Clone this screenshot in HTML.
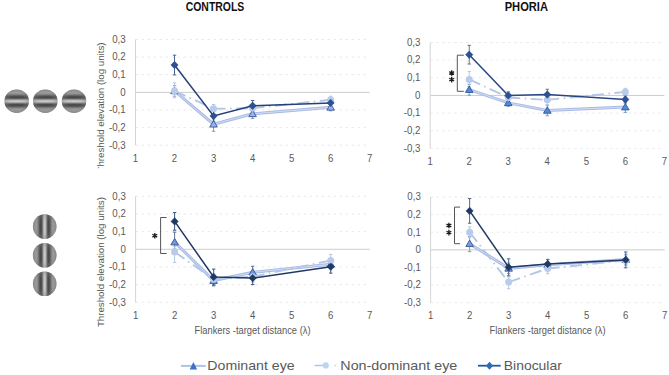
<!DOCTYPE html><html><head><meta charset="utf-8"><style>html,body{margin:0;padding:0;background:#fff;}svg{display:block;}</style></head><body>
<svg width="669" height="375" viewBox="0 0 669 375" font-family='"Liberation Sans", sans-serif'>
<defs>
<linearGradient id="gh" x1="0" y1="0" x2="0" y2="1"><stop offset="0.000" stop-color="#949494"/><stop offset="0.025" stop-color="#969696"/><stop offset="0.050" stop-color="#999999"/><stop offset="0.075" stop-color="#9c9c9c"/><stop offset="0.100" stop-color="#9e9e9e"/><stop offset="0.125" stop-color="#a1a1a1"/><stop offset="0.150" stop-color="#9f9f9f"/><stop offset="0.175" stop-color="#979797"/><stop offset="0.200" stop-color="#8a8a8a"/><stop offset="0.225" stop-color="#797979"/><stop offset="0.250" stop-color="#676767"/><stop offset="0.275" stop-color="#565656"/><stop offset="0.300" stop-color="#4a4a4a"/><stop offset="0.325" stop-color="#434343"/><stop offset="0.350" stop-color="#434343"/><stop offset="0.375" stop-color="#515151"/><stop offset="0.400" stop-color="#6c6c6c"/><stop offset="0.425" stop-color="#8e8e8e"/><stop offset="0.450" stop-color="#aeaeae"/><stop offset="0.475" stop-color="#c4c4c4"/><stop offset="0.500" stop-color="#cdcdcd"/><stop offset="0.525" stop-color="#c4c4c4"/><stop offset="0.550" stop-color="#aeaeae"/><stop offset="0.575" stop-color="#8e8e8e"/><stop offset="0.600" stop-color="#6c6c6c"/><stop offset="0.625" stop-color="#515151"/><stop offset="0.650" stop-color="#434343"/><stop offset="0.675" stop-color="#434343"/><stop offset="0.700" stop-color="#4a4a4a"/><stop offset="0.725" stop-color="#565656"/><stop offset="0.750" stop-color="#676767"/><stop offset="0.775" stop-color="#797979"/><stop offset="0.800" stop-color="#8a8a8a"/><stop offset="0.825" stop-color="#979797"/><stop offset="0.850" stop-color="#9f9f9f"/><stop offset="0.875" stop-color="#a1a1a1"/><stop offset="0.900" stop-color="#9e9e9e"/><stop offset="0.925" stop-color="#9c9c9c"/><stop offset="0.950" stop-color="#999999"/><stop offset="0.975" stop-color="#969696"/><stop offset="1.000" stop-color="#949494"/></linearGradient>
<linearGradient id="gv" x1="0" y1="0" x2="1" y2="0"><stop offset="0.000" stop-color="#949494"/><stop offset="0.025" stop-color="#969696"/><stop offset="0.050" stop-color="#999999"/><stop offset="0.075" stop-color="#9c9c9c"/><stop offset="0.100" stop-color="#9e9e9e"/><stop offset="0.125" stop-color="#a1a1a1"/><stop offset="0.150" stop-color="#9f9f9f"/><stop offset="0.175" stop-color="#979797"/><stop offset="0.200" stop-color="#8a8a8a"/><stop offset="0.225" stop-color="#797979"/><stop offset="0.250" stop-color="#676767"/><stop offset="0.275" stop-color="#565656"/><stop offset="0.300" stop-color="#4a4a4a"/><stop offset="0.325" stop-color="#434343"/><stop offset="0.350" stop-color="#434343"/><stop offset="0.375" stop-color="#515151"/><stop offset="0.400" stop-color="#6c6c6c"/><stop offset="0.425" stop-color="#8e8e8e"/><stop offset="0.450" stop-color="#aeaeae"/><stop offset="0.475" stop-color="#c4c4c4"/><stop offset="0.500" stop-color="#cdcdcd"/><stop offset="0.525" stop-color="#c4c4c4"/><stop offset="0.550" stop-color="#aeaeae"/><stop offset="0.575" stop-color="#8e8e8e"/><stop offset="0.600" stop-color="#6c6c6c"/><stop offset="0.625" stop-color="#515151"/><stop offset="0.650" stop-color="#434343"/><stop offset="0.675" stop-color="#434343"/><stop offset="0.700" stop-color="#4a4a4a"/><stop offset="0.725" stop-color="#565656"/><stop offset="0.750" stop-color="#676767"/><stop offset="0.775" stop-color="#797979"/><stop offset="0.800" stop-color="#8a8a8a"/><stop offset="0.825" stop-color="#979797"/><stop offset="0.850" stop-color="#9f9f9f"/><stop offset="0.875" stop-color="#a1a1a1"/><stop offset="0.900" stop-color="#9e9e9e"/><stop offset="0.925" stop-color="#9c9c9c"/><stop offset="0.950" stop-color="#999999"/><stop offset="0.975" stop-color="#969696"/><stop offset="1.000" stop-color="#949494"/></linearGradient>
<radialGradient id="gr" cx="0.5" cy="0.5" r="0.5"><stop offset="0" stop-color="#8a8a8a" stop-opacity="0"/><stop offset="0.6" stop-color="#8a8a8a" stop-opacity="0.12"/><stop offset="1" stop-color="#7c7c7c" stop-opacity="0.5"/></radialGradient><filter id="soft" x="-20%" y="-20%" width="140%" height="140%"><feGaussianBlur stdDeviation="0.6"/></filter>
<clipPath id="clipTL"><rect x="0" y="20" width="669" height="148.3"/></clipPath>
</defs>
<g filter="url(#soft)">
<ellipse cx="16.7" cy="101.2" rx="12.2" ry="11.8" fill="url(#gh)"/>
<ellipse cx="16.7" cy="101.2" rx="12.2" ry="11.8" fill="url(#gr)"/>
<ellipse cx="45.3" cy="101.2" rx="12.2" ry="11.8" fill="url(#gh)"/>
<ellipse cx="45.3" cy="101.2" rx="12.2" ry="11.8" fill="url(#gr)"/>
<ellipse cx="74.0" cy="101.2" rx="12.2" ry="11.8" fill="url(#gh)"/>
<ellipse cx="74.0" cy="101.2" rx="12.2" ry="11.8" fill="url(#gr)"/>
<ellipse cx="44.7" cy="226.5" rx="11.8" ry="12.3" fill="url(#gv)"/>
<ellipse cx="44.7" cy="226.5" rx="11.8" ry="12.3" fill="url(#gr)"/>
<ellipse cx="44.7" cy="255.2" rx="11.8" ry="12.3" fill="url(#gv)"/>
<ellipse cx="44.7" cy="255.2" rx="11.8" ry="12.3" fill="url(#gr)"/>
<ellipse cx="44.7" cy="283.8" rx="11.8" ry="12.3" fill="url(#gv)"/>
<ellipse cx="44.7" cy="283.8" rx="11.8" ry="12.3" fill="url(#gr)"/>
</g>
<text x="185.7" y="11.2" font-size="12" font-weight="bold" fill="#111" textLength="58.6" lengthAdjust="spacingAndGlyphs">CONTROLS</text>
<text x="504.7" y="11.2" font-size="12" font-weight="bold" fill="#111" textLength="43.3" lengthAdjust="spacingAndGlyphs">PHORIA</text>
<line x1="135.5" y1="39.49" x2="369.68" y2="39.49" stroke="#eaeaea" stroke-width="1" stroke-dasharray="2.5 3.5"/>
<line x1="135.5" y1="57.11" x2="369.68" y2="57.11" stroke="#eaeaea" stroke-width="1" stroke-dasharray="2.5 3.5"/>
<line x1="135.5" y1="74.73" x2="369.68" y2="74.73" stroke="#eaeaea" stroke-width="1" stroke-dasharray="2.5 3.5"/>
<line x1="135.5" y1="109.97" x2="369.68" y2="109.97" stroke="#eaeaea" stroke-width="1" stroke-dasharray="2.5 3.5"/>
<line x1="135.5" y1="127.59" x2="369.68" y2="127.59" stroke="#eaeaea" stroke-width="1" stroke-dasharray="2.5 3.5"/>
<line x1="135.5" y1="145.21" x2="369.68" y2="145.21" stroke="#eaeaea" stroke-width="1" stroke-dasharray="2.5 3.5"/>
<line x1="135.5" y1="92.35" x2="369.68" y2="92.35" stroke="#cccccc" stroke-width="1"/>
<line x1="135.5" y1="39.49" x2="135.5" y2="145.21" stroke="#d4d4d4" stroke-width="1"/>
<text transform="translate(125.7,42.79) scale(1,1.1)" font-size="9.7" fill="#595959" text-anchor="end">0,3</text>
<text transform="translate(125.7,60.41) scale(1,1.1)" font-size="9.7" fill="#595959" text-anchor="end">0,2</text>
<text transform="translate(125.7,78.03) scale(1,1.1)" font-size="9.7" fill="#595959" text-anchor="end">0,1</text>
<text transform="translate(125.7,95.65) scale(1,1.1)" font-size="9.7" fill="#595959" text-anchor="end">0</text>
<text transform="translate(125.7,113.27) scale(1,1.1)" font-size="9.7" fill="#595959" text-anchor="end">-0,1</text>
<text transform="translate(125.7,130.89) scale(1,1.1)" font-size="9.7" fill="#595959" text-anchor="end">-0,2</text>
<text transform="translate(125.7,148.51) scale(1,1.1)" font-size="9.7" fill="#595959" text-anchor="end">-0,3</text>
<text transform="translate(135.50,161.6) scale(1,1.08)" font-size="9.6" fill="#595959" text-anchor="middle">1</text>
<text transform="translate(174.53,161.6) scale(1,1.08)" font-size="9.6" fill="#595959" text-anchor="middle">2</text>
<text transform="translate(213.56,161.6) scale(1,1.08)" font-size="9.6" fill="#595959" text-anchor="middle">3</text>
<text transform="translate(252.59,161.6) scale(1,1.08)" font-size="9.6" fill="#595959" text-anchor="middle">4</text>
<text transform="translate(291.62,161.6) scale(1,1.08)" font-size="9.6" fill="#595959" text-anchor="middle">5</text>
<text transform="translate(330.65,161.6) scale(1,1.08)" font-size="9.6" fill="#595959" text-anchor="middle">6</text>
<text transform="translate(369.68,161.6) scale(1,1.08)" font-size="9.6" fill="#595959" text-anchor="middle">7</text>
<path d="M174.53 85.65 V96.23 M172.83 85.65 H176.23 M172.83 96.23 H176.23" stroke="#7f9bd0" stroke-width="1" fill="none"/>
<path d="M213.56 118.96 V131.29 M211.86 118.96 H215.26 M211.86 131.29 H215.26" stroke="#7f9bd0" stroke-width="1" fill="none"/>
<path d="M252.59 108.56 V118.43 M250.89 108.56 H254.29 M250.89 118.43 H254.29" stroke="#7f9bd0" stroke-width="1" fill="none"/>
<path d="M330.65 103.80 V110.85 M328.95 103.80 H332.35 M328.95 110.85 H332.35" stroke="#7f9bd0" stroke-width="1" fill="none"/>
<path d="M174.53 82.84 V97.81 M172.83 82.84 H176.23 M172.83 97.81 H176.23" stroke="#b4c7e7" stroke-width="1" fill="none"/>
<path d="M213.56 104.51 V114.02 M211.86 104.51 H215.26 M211.86 114.02 H215.26" stroke="#b4c7e7" stroke-width="1" fill="none"/>
<path d="M252.59 104.68 V111.73 M250.89 104.68 H254.29 M250.89 111.73 H254.29" stroke="#b4c7e7" stroke-width="1" fill="none"/>
<path d="M330.65 96.23 V103.27 M328.95 96.23 H332.35 M328.95 103.27 H332.35" stroke="#b4c7e7" stroke-width="1" fill="none"/>
<path d="M174.53 55.17 V74.91 M172.83 55.17 H176.23 M172.83 74.91 H176.23" stroke="#4a6494" stroke-width="1" fill="none"/>
<path d="M213.56 110.67 V121.25 M211.86 110.67 H215.26 M211.86 121.25 H215.26" stroke="#4a6494" stroke-width="1" fill="none"/>
<path d="M252.59 100.46 V111.03 M250.89 100.46 H254.29 M250.89 111.03 H254.29" stroke="#4a6494" stroke-width="1" fill="none"/>
<path d="M330.65 99.40 V106.45 M328.95 99.40 H332.35 M328.95 106.45 H332.35" stroke="#4a6494" stroke-width="1" fill="none"/>
<polyline points="174.53,90.94 213.56,124.24 252.59,113.85 330.65,107.33" fill="none" stroke="#a9bbe5" stroke-width="3"/>
<polyline points="174.53,90.94 213.56,124.24 252.59,113.85 330.65,107.33" fill="none" stroke="#d3dcf2" stroke-width="1"/>
<path d="M174.53 87.34 L178.33 93.74 L170.73 93.74 Z" fill="#9CB4E4" stroke="#33569a" stroke-width="0.9"/>
<path d="M213.56 120.64 L217.36 127.04 L209.76 127.04 Z" fill="#9CB4E4" stroke="#33569a" stroke-width="0.9"/>
<path d="M252.59 110.25 L256.39 116.65 L248.79 116.65 Z" fill="#9CB4E4" stroke="#33569a" stroke-width="0.9"/>
<path d="M330.65 103.73 L334.45 110.13 L326.85 110.13 Z" fill="#9CB4E4" stroke="#33569a" stroke-width="0.9"/>
<line x1="174.53" y1="90.76" x2="213.56" y2="108.74" stroke="#b4c7e7" stroke-width="1.9" stroke-dasharray="12 4.5 1.5 4.5"/>
<line x1="213.56" y1="108.74" x2="252.59" y2="108.21" stroke="#b4c7e7" stroke-width="1.9" stroke-dasharray="12 4.5 1.5 4.5"/>
<line x1="252.59" y1="108.21" x2="330.65" y2="99.75" stroke="#b4c7e7" stroke-width="1.9" stroke-dasharray="12 4.5 1.5 4.5"/>
<circle cx="174.53" cy="90.76" r="3.5" fill="#b8cbea"/>
<circle cx="213.56" cy="108.74" r="3.5" fill="#b8cbea"/>
<circle cx="252.59" cy="108.21" r="3.5" fill="#b8cbea"/>
<circle cx="330.65" cy="99.75" r="3.5" fill="#b8cbea"/>
<polyline points="174.53,65.04 213.56,115.96 252.59,105.74 330.65,102.92" fill="none" stroke="#253f7a" stroke-width="1.5"/>
<path d="M174.53 61.34 L178.13 65.04 L174.53 68.74 L170.93 65.04 Z" fill="#2b5296" stroke="#253f7a" stroke-width="0.6"/>
<path d="M213.56 112.26 L217.16 115.96 L213.56 119.66 L209.96 115.96 Z" fill="#2b5296" stroke="#253f7a" stroke-width="0.6"/>
<path d="M252.59 102.04 L256.19 105.74 L252.59 109.44 L248.99 105.74 Z" fill="#2b5296" stroke="#253f7a" stroke-width="0.6"/>
<path d="M330.65 99.22 L334.25 102.92 L330.65 106.62 L327.05 102.92 Z" fill="#2b5296" stroke="#253f7a" stroke-width="0.6"/>
<line x1="430.2" y1="42.50" x2="664.38" y2="42.50" stroke="#eaeaea" stroke-width="1" stroke-dasharray="2.5 3.5"/>
<line x1="430.2" y1="60.15" x2="664.38" y2="60.15" stroke="#eaeaea" stroke-width="1" stroke-dasharray="2.5 3.5"/>
<line x1="430.2" y1="77.80" x2="664.38" y2="77.80" stroke="#eaeaea" stroke-width="1" stroke-dasharray="2.5 3.5"/>
<line x1="430.2" y1="113.10" x2="664.38" y2="113.10" stroke="#eaeaea" stroke-width="1" stroke-dasharray="2.5 3.5"/>
<line x1="430.2" y1="130.75" x2="664.38" y2="130.75" stroke="#eaeaea" stroke-width="1" stroke-dasharray="2.5 3.5"/>
<line x1="430.2" y1="148.40" x2="664.38" y2="148.40" stroke="#eaeaea" stroke-width="1" stroke-dasharray="2.5 3.5"/>
<line x1="430.2" y1="95.45" x2="664.38" y2="95.45" stroke="#cccccc" stroke-width="1"/>
<line x1="430.2" y1="42.50" x2="430.2" y2="148.40" stroke="#d4d4d4" stroke-width="1"/>
<text transform="translate(420.4,45.80) scale(1,1.1)" font-size="9.7" fill="#595959" text-anchor="end">0,3</text>
<text transform="translate(420.4,63.45) scale(1,1.1)" font-size="9.7" fill="#595959" text-anchor="end">0,2</text>
<text transform="translate(420.4,81.10) scale(1,1.1)" font-size="9.7" fill="#595959" text-anchor="end">0,1</text>
<text transform="translate(420.4,98.75) scale(1,1.1)" font-size="9.7" fill="#595959" text-anchor="end">0</text>
<text transform="translate(420.4,116.40) scale(1,1.1)" font-size="9.7" fill="#595959" text-anchor="end">-0,1</text>
<text transform="translate(420.4,134.05) scale(1,1.1)" font-size="9.7" fill="#595959" text-anchor="end">-0,2</text>
<text transform="translate(420.4,151.70) scale(1,1.1)" font-size="9.7" fill="#595959" text-anchor="end">-0,3</text>
<text transform="translate(430.20,165.0) scale(1,1.08)" font-size="9.6" fill="#595959" text-anchor="middle">1</text>
<text transform="translate(469.23,165.0) scale(1,1.08)" font-size="9.6" fill="#595959" text-anchor="middle">2</text>
<text transform="translate(508.26,165.0) scale(1,1.08)" font-size="9.6" fill="#595959" text-anchor="middle">3</text>
<text transform="translate(547.29,165.0) scale(1,1.08)" font-size="9.6" fill="#595959" text-anchor="middle">4</text>
<text transform="translate(586.32,165.0) scale(1,1.08)" font-size="9.6" fill="#595959" text-anchor="middle">5</text>
<text transform="translate(625.35,165.0) scale(1,1.08)" font-size="9.6" fill="#595959" text-anchor="middle">6</text>
<text transform="translate(664.38,165.0) scale(1,1.08)" font-size="9.6" fill="#595959" text-anchor="middle">7</text>
<path d="M463.8 55.2 H457.3 V91.3 H463.8" fill="none" stroke="#555555" stroke-width="1"/>
<path d="M451.7 70.2 V75.8 M449.28 71.60 L454.12 74.40 M449.28 74.40 L454.12 71.60" stroke="#1a1a1a" stroke-width="1.3" fill="none"/>
<path d="M451.7 76.8 V82.39999999999999 M449.28 78.20 L454.12 81.00 M449.28 81.00 L454.12 78.20" stroke="#1a1a1a" stroke-width="1.3" fill="none"/>
<path d="M469.23 84.33 V95.27 M467.53 84.33 H470.93 M467.53 95.27 H470.93" stroke="#7f9bd0" stroke-width="1" fill="none"/>
<path d="M508.26 99.33 V106.39 M506.56 99.33 H509.96 M506.56 106.39 H509.96" stroke="#7f9bd0" stroke-width="1" fill="none"/>
<path d="M547.29 105.16 V115.75 M545.59 105.16 H548.99 M545.59 115.75 H548.99" stroke="#7f9bd0" stroke-width="1" fill="none"/>
<path d="M625.35 101.80 V112.39 M623.65 101.80 H627.05 M623.65 112.39 H627.05" stroke="#7f9bd0" stroke-width="1" fill="none"/>
<path d="M469.23 71.45 V86.45 M467.53 71.45 H470.93 M467.53 86.45 H470.93" stroke="#b4c7e7" stroke-width="1" fill="none"/>
<path d="M508.26 94.04 V101.10 M506.56 94.04 H509.96 M506.56 101.10 H509.96" stroke="#b4c7e7" stroke-width="1" fill="none"/>
<path d="M547.29 96.33 V104.63 M545.59 96.33 H548.99 M545.59 104.63 H548.99" stroke="#b4c7e7" stroke-width="1" fill="none"/>
<path d="M625.35 88.39 V95.45 M623.65 88.39 H627.05 M623.65 95.45 H627.05" stroke="#b4c7e7" stroke-width="1" fill="none"/>
<path d="M469.23 45.32 V64.03 M467.53 45.32 H470.93 M467.53 64.03 H470.93" stroke="#5f74a0" stroke-width="1" fill="none"/>
<path d="M508.26 91.92 V98.98 M506.56 91.92 H509.96 M506.56 98.98 H509.96" stroke="#5f74a0" stroke-width="1" fill="none"/>
<path d="M547.29 89.27 V99.86 M545.59 89.27 H548.99 M545.59 99.86 H548.99" stroke="#5f74a0" stroke-width="1" fill="none"/>
<path d="M625.35 95.98 V103.04 M623.65 95.98 H627.05 M623.65 103.04 H627.05" stroke="#5f74a0" stroke-width="1" fill="none"/>
<polyline points="469.23,89.63 508.26,102.86 547.29,110.45 625.35,107.10" fill="none" stroke="#a9bbe5" stroke-width="3"/>
<polyline points="469.23,89.63 508.26,102.86 547.29,110.45 625.35,107.10" fill="none" stroke="#d3dcf2" stroke-width="1"/>
<path d="M469.23 86.03 L473.03 92.43 L465.43 92.43 Z" fill="#4F8BD6" stroke="#33569a" stroke-width="0.9"/>
<path d="M508.26 99.26 L512.06 105.66 L504.46 105.66 Z" fill="#4F8BD6" stroke="#33569a" stroke-width="0.9"/>
<path d="M547.29 106.85 L551.09 113.25 L543.49 113.25 Z" fill="#4F8BD6" stroke="#33569a" stroke-width="0.9"/>
<path d="M625.35 103.50 L629.15 109.90 L621.55 109.90 Z" fill="#4F8BD6" stroke="#33569a" stroke-width="0.9"/>
<line x1="469.23" y1="79.39" x2="508.26" y2="97.57" stroke="#b4c7e7" stroke-width="1.9" stroke-dasharray="12 4.5 1.5 4.5"/>
<line x1="508.26" y1="97.57" x2="547.29" y2="99.86" stroke="#b4c7e7" stroke-width="1.9" stroke-dasharray="12 4.5 1.5 4.5"/>
<line x1="547.29" y1="99.86" x2="625.35" y2="91.92" stroke="#b4c7e7" stroke-width="1.9" stroke-dasharray="12 4.5 1.5 4.5"/>
<circle cx="469.23" cy="79.39" r="3.5" fill="#b8cbea"/>
<circle cx="508.26" cy="97.57" r="3.5" fill="#b8cbea"/>
<circle cx="547.29" cy="99.86" r="3.5" fill="#b8cbea"/>
<circle cx="625.35" cy="91.92" r="3.5" fill="#b8cbea"/>
<polyline points="469.23,54.68 508.26,95.45 547.29,94.57 625.35,99.51" fill="none" stroke="#284785" stroke-width="1.5"/>
<path d="M469.23 50.98 L472.83 54.68 L469.23 58.38 L465.63 54.68 Z" fill="#2b5296" stroke="#284785" stroke-width="0.6"/>
<path d="M508.26 91.75 L511.86 95.45 L508.26 99.15 L504.66 95.45 Z" fill="#2b5296" stroke="#284785" stroke-width="0.6"/>
<path d="M547.29 90.87 L550.89 94.57 L547.29 98.27 L543.69 94.57 Z" fill="#2b5296" stroke="#284785" stroke-width="0.6"/>
<path d="M625.35 95.81 L628.95 99.51 L625.35 103.21 L621.75 99.51 Z" fill="#2b5296" stroke="#284785" stroke-width="0.6"/>
<line x1="135.6" y1="196.29" x2="369.78" y2="196.29" stroke="#eaeaea" stroke-width="1" stroke-dasharray="2.5 3.5"/>
<line x1="135.6" y1="213.96" x2="369.78" y2="213.96" stroke="#eaeaea" stroke-width="1" stroke-dasharray="2.5 3.5"/>
<line x1="135.6" y1="231.63" x2="369.78" y2="231.63" stroke="#eaeaea" stroke-width="1" stroke-dasharray="2.5 3.5"/>
<line x1="135.6" y1="266.97" x2="369.78" y2="266.97" stroke="#eaeaea" stroke-width="1" stroke-dasharray="2.5 3.5"/>
<line x1="135.6" y1="284.64" x2="369.78" y2="284.64" stroke="#eaeaea" stroke-width="1" stroke-dasharray="2.5 3.5"/>
<line x1="135.6" y1="302.31" x2="369.78" y2="302.31" stroke="#eaeaea" stroke-width="1" stroke-dasharray="2.5 3.5"/>
<line x1="135.6" y1="249.30" x2="369.78" y2="249.30" stroke="#cccccc" stroke-width="1"/>
<line x1="135.6" y1="196.29" x2="135.6" y2="302.31" stroke="#d4d4d4" stroke-width="1"/>
<text transform="translate(125.8,199.59) scale(1,1.1)" font-size="9.7" fill="#595959" text-anchor="end">0,3</text>
<text transform="translate(125.8,217.26) scale(1,1.1)" font-size="9.7" fill="#595959" text-anchor="end">0,2</text>
<text transform="translate(125.8,234.93) scale(1,1.1)" font-size="9.7" fill="#595959" text-anchor="end">0,1</text>
<text transform="translate(125.8,252.60) scale(1,1.1)" font-size="9.7" fill="#595959" text-anchor="end">0</text>
<text transform="translate(125.8,270.27) scale(1,1.1)" font-size="9.7" fill="#595959" text-anchor="end">-0,1</text>
<text transform="translate(125.8,287.94) scale(1,1.1)" font-size="9.7" fill="#595959" text-anchor="end">-0,2</text>
<text transform="translate(125.8,305.61) scale(1,1.1)" font-size="9.7" fill="#595959" text-anchor="end">-0,3</text>
<text transform="translate(135.60,318.7) scale(1,1.08)" font-size="9.6" fill="#595959" text-anchor="middle">1</text>
<text transform="translate(174.63,318.7) scale(1,1.08)" font-size="9.6" fill="#595959" text-anchor="middle">2</text>
<text transform="translate(213.66,318.7) scale(1,1.08)" font-size="9.6" fill="#595959" text-anchor="middle">3</text>
<text transform="translate(252.69,318.7) scale(1,1.08)" font-size="9.6" fill="#595959" text-anchor="middle">4</text>
<text transform="translate(291.72,318.7) scale(1,1.08)" font-size="9.6" fill="#595959" text-anchor="middle">5</text>
<text transform="translate(330.75,318.7) scale(1,1.08)" font-size="9.6" fill="#595959" text-anchor="middle">6</text>
<text transform="translate(369.78,318.7) scale(1,1.08)" font-size="9.6" fill="#595959" text-anchor="middle">7</text>
<text x="194.5" y="333.6" font-size="10.4" fill="#595959" textLength="116" lengthAdjust="spacingAndGlyphs">Flankers -target distance (λ)</text>
<path d="M166.6 217.5 H160.6 V253.5 H166.6" fill="none" stroke="#555555" stroke-width="1"/>
<path d="M154.8 232.89999999999998 V238.5 M152.38 234.30 L157.22 237.10 M152.38 237.10 L157.22 234.30" stroke="#1a1a1a" stroke-width="1.3" fill="none"/>
<path d="M174.63 232.16 V249.12 M172.93 232.16 H176.33 M172.93 249.12 H176.33" stroke="#5d6f95" stroke-width="1" fill="none"/>
<path d="M213.66 275.27 V285.88 M211.96 275.27 H215.36 M211.96 285.88 H215.36" stroke="#5d6f95" stroke-width="1" fill="none"/>
<path d="M252.69 266.26 V277.57 M250.99 266.26 H254.39 M250.99 277.57 H254.39" stroke="#5d6f95" stroke-width="1" fill="none"/>
<path d="M330.75 260.79 V267.85 M329.05 260.79 H332.45 M329.05 267.85 H332.45" stroke="#5d6f95" stroke-width="1" fill="none"/>
<path d="M174.63 246.65 V262.55 M172.93 246.65 H176.33 M172.93 262.55 H176.33" stroke="#b4c7e7" stroke-width="1" fill="none"/>
<path d="M213.66 274.04 V284.64 M211.96 274.04 H215.36 M211.96 284.64 H215.36" stroke="#b4c7e7" stroke-width="1" fill="none"/>
<path d="M252.69 271.39 V281.99 M250.99 271.39 H254.39 M250.99 281.99 H254.39" stroke="#b4c7e7" stroke-width="1" fill="none"/>
<path d="M330.75 254.42 V265.73 M329.05 254.42 H332.45 M329.05 265.73 H332.45" stroke="#b4c7e7" stroke-width="1" fill="none"/>
<path d="M174.63 212.55 V230.22 M172.93 212.55 H176.33 M172.93 230.22 H176.33" stroke="#3a5280" stroke-width="1" fill="none"/>
<path d="M213.66 269.09 V284.99 M211.96 269.09 H215.36 M211.96 284.99 H215.36" stroke="#3a5280" stroke-width="1" fill="none"/>
<path d="M252.69 271.56 V284.64 M250.99 271.56 H254.39 M250.99 284.64 H254.39" stroke="#3a5280" stroke-width="1" fill="none"/>
<path d="M330.75 260.43 V273.15 M329.05 260.43 H332.45 M329.05 273.15 H332.45" stroke="#3a5280" stroke-width="1" fill="none"/>
<polyline points="174.63,242.06 213.66,280.58 252.69,272.27 330.75,264.32" fill="none" stroke="#a9bbe5" stroke-width="3"/>
<polyline points="174.63,242.06 213.66,280.58 252.69,272.27 330.75,264.32" fill="none" stroke="#d3dcf2" stroke-width="1"/>
<path d="M174.63 238.46 L178.43 244.86 L170.83 244.86 Z" fill="#7296D8" stroke="#33569a" stroke-width="0.9"/>
<path d="M213.66 276.98 L217.46 283.38 L209.86 283.38 Z" fill="#7296D8" stroke="#33569a" stroke-width="0.9"/>
<path d="M252.69 268.67 L256.49 275.07 L248.89 275.07 Z" fill="#7296D8" stroke="#33569a" stroke-width="0.9"/>
<path d="M330.75 260.72 L334.55 267.12 L326.95 267.12 Z" fill="#7296D8" stroke="#33569a" stroke-width="0.9"/>
<line x1="174.63" y1="251.95" x2="213.66" y2="279.34" stroke="#b4c7e7" stroke-width="1.9" stroke-dasharray="12 4.5 1.5 4.5"/>
<line x1="213.66" y1="279.34" x2="252.69" y2="276.69" stroke="#b4c7e7" stroke-width="1.9" stroke-dasharray="12 4.5 1.5 4.5"/>
<line x1="252.69" y1="276.69" x2="330.75" y2="260.43" stroke="#b4c7e7" stroke-width="1.9" stroke-dasharray="12 4.5 1.5 4.5"/>
<circle cx="174.63" cy="251.95" r="3.5" fill="#b8cbea"/>
<circle cx="213.66" cy="279.34" r="3.5" fill="#b8cbea"/>
<circle cx="252.69" cy="276.69" r="3.5" fill="#b8cbea"/>
<circle cx="330.75" cy="260.43" r="3.5" fill="#b8cbea"/>
<polyline points="174.63,221.38 213.66,277.04 252.69,278.10 330.75,266.79" fill="none" stroke="#1f3864" stroke-width="1.5"/>
<path d="M174.63 217.68 L178.23 221.38 L174.63 225.08 L171.03 221.38 Z" fill="#1f3864" stroke="#1f3864" stroke-width="0.6"/>
<path d="M213.66 273.34 L217.26 277.04 L213.66 280.74 L210.06 277.04 Z" fill="#1f3864" stroke="#1f3864" stroke-width="0.6"/>
<path d="M252.69 274.40 L256.29 278.10 L252.69 281.80 L249.09 278.10 Z" fill="#1f3864" stroke="#1f3864" stroke-width="0.6"/>
<path d="M330.75 263.09 L334.35 266.79 L330.75 270.49 L327.15 266.79 Z" fill="#1f3864" stroke="#1f3864" stroke-width="0.6"/>
<line x1="430.6" y1="196.99" x2="664.78" y2="196.99" stroke="#eaeaea" stroke-width="1" stroke-dasharray="2.5 3.5"/>
<line x1="430.6" y1="214.61" x2="664.78" y2="214.61" stroke="#eaeaea" stroke-width="1" stroke-dasharray="2.5 3.5"/>
<line x1="430.6" y1="232.23" x2="664.78" y2="232.23" stroke="#eaeaea" stroke-width="1" stroke-dasharray="2.5 3.5"/>
<line x1="430.6" y1="267.47" x2="664.78" y2="267.47" stroke="#eaeaea" stroke-width="1" stroke-dasharray="2.5 3.5"/>
<line x1="430.6" y1="285.09" x2="664.78" y2="285.09" stroke="#eaeaea" stroke-width="1" stroke-dasharray="2.5 3.5"/>
<line x1="430.6" y1="302.71" x2="664.78" y2="302.71" stroke="#eaeaea" stroke-width="1" stroke-dasharray="2.5 3.5"/>
<line x1="430.6" y1="249.85" x2="664.78" y2="249.85" stroke="#cccccc" stroke-width="1"/>
<line x1="430.6" y1="196.99" x2="430.6" y2="302.71" stroke="#d4d4d4" stroke-width="1"/>
<text transform="translate(420.8,200.29) scale(1,1.1)" font-size="9.7" fill="#595959" text-anchor="end">0,3</text>
<text transform="translate(420.8,217.91) scale(1,1.1)" font-size="9.7" fill="#595959" text-anchor="end">0,2</text>
<text transform="translate(420.8,235.53) scale(1,1.1)" font-size="9.7" fill="#595959" text-anchor="end">0,1</text>
<text transform="translate(420.8,253.15) scale(1,1.1)" font-size="9.7" fill="#595959" text-anchor="end">0</text>
<text transform="translate(420.8,270.77) scale(1,1.1)" font-size="9.7" fill="#595959" text-anchor="end">-0,1</text>
<text transform="translate(420.8,288.39) scale(1,1.1)" font-size="9.7" fill="#595959" text-anchor="end">-0,2</text>
<text transform="translate(420.8,306.01) scale(1,1.1)" font-size="9.7" fill="#595959" text-anchor="end">-0,3</text>
<text transform="translate(430.60,319.0) scale(1,1.08)" font-size="9.6" fill="#595959" text-anchor="middle">1</text>
<text transform="translate(469.63,319.0) scale(1,1.08)" font-size="9.6" fill="#595959" text-anchor="middle">2</text>
<text transform="translate(508.66,319.0) scale(1,1.08)" font-size="9.6" fill="#595959" text-anchor="middle">3</text>
<text transform="translate(547.69,319.0) scale(1,1.08)" font-size="9.6" fill="#595959" text-anchor="middle">4</text>
<text transform="translate(586.72,319.0) scale(1,1.08)" font-size="9.6" fill="#595959" text-anchor="middle">5</text>
<text transform="translate(625.75,319.0) scale(1,1.08)" font-size="9.6" fill="#595959" text-anchor="middle">6</text>
<text transform="translate(664.78,319.0) scale(1,1.08)" font-size="9.6" fill="#595959" text-anchor="middle">7</text>
<text x="489.5" y="333.6" font-size="10.4" fill="#595959" textLength="116" lengthAdjust="spacingAndGlyphs">Flankers -target distance (λ)</text>
<path d="M460.1 207.1 H454.5 V243.7 H460.1" fill="none" stroke="#555555" stroke-width="1"/>
<path d="M448.9 222.7 V228.3 M446.48 224.10 L451.32 226.90 M446.48 226.90 L451.32 224.10" stroke="#1a1a1a" stroke-width="1.3" fill="none"/>
<path d="M448.9 229.79999999999998 V235.4 M446.48 231.20 L451.32 234.00 M446.48 234.00 L451.32 231.20" stroke="#1a1a1a" stroke-width="1.3" fill="none"/>
<path d="M469.63 236.63 V251.61 M467.93 236.63 H471.33 M467.93 251.61 H471.33" stroke="#7f9bd0" stroke-width="1" fill="none"/>
<path d="M508.66 263.06 V273.64 M506.96 263.06 H510.36 M506.96 273.64 H510.36" stroke="#7f9bd0" stroke-width="1" fill="none"/>
<path d="M547.69 259.54 V270.11 M545.99 259.54 H549.39 M545.99 270.11 H549.39" stroke="#7f9bd0" stroke-width="1" fill="none"/>
<path d="M625.75 254.25 V264.83 M624.05 254.25 H627.45 M624.05 264.83 H627.45" stroke="#7f9bd0" stroke-width="1" fill="none"/>
<path d="M469.63 226.94 V237.52 M467.93 226.94 H471.33 M467.93 237.52 H471.33" stroke="#b4c7e7" stroke-width="1" fill="none"/>
<path d="M508.66 276.81 V288.79 M506.96 276.81 H510.36 M506.96 288.79 H510.36" stroke="#b4c7e7" stroke-width="1" fill="none"/>
<path d="M547.69 263.24 V273.81 M545.99 263.24 H549.39 M545.99 273.81 H549.39" stroke="#b4c7e7" stroke-width="1" fill="none"/>
<path d="M625.75 255.14 V265.71 M624.05 255.14 H627.45 M624.05 265.71 H627.45" stroke="#b4c7e7" stroke-width="1" fill="none"/>
<path d="M469.63 198.58 V223.24 M467.93 198.58 H471.33 M467.93 223.24 H471.33" stroke="#4f6590" stroke-width="1" fill="none"/>
<path d="M508.66 258.84 V275.75 M506.96 258.84 H510.36 M506.96 275.75 H510.36" stroke="#4f6590" stroke-width="1" fill="none"/>
<path d="M547.69 259.36 V268.53 M545.99 259.36 H549.39 M545.99 268.53 H549.39" stroke="#4f6590" stroke-width="1" fill="none"/>
<path d="M625.75 251.96 V267.82 M624.05 251.96 H627.45 M624.05 267.82 H627.45" stroke="#4f6590" stroke-width="1" fill="none"/>
<polyline points="469.63,243.68 508.66,268.35 547.69,264.83 625.75,259.54" fill="none" stroke="#a9bbe5" stroke-width="3"/>
<polyline points="469.63,243.68 508.66,268.35 547.69,264.83 625.75,259.54" fill="none" stroke="#d3dcf2" stroke-width="1"/>
<path d="M469.63 240.08 L473.43 246.48 L465.83 246.48 Z" fill="#7A9CDA" stroke="#33569a" stroke-width="0.9"/>
<path d="M508.66 264.75 L512.46 271.15 L504.86 271.15 Z" fill="#7A9CDA" stroke="#33569a" stroke-width="0.9"/>
<path d="M547.69 261.23 L551.49 267.63 L543.89 267.63 Z" fill="#7A9CDA" stroke="#33569a" stroke-width="0.9"/>
<path d="M625.75 255.94 L629.55 262.34 L621.95 262.34 Z" fill="#7A9CDA" stroke="#33569a" stroke-width="0.9"/>
<line x1="469.63" y1="232.23" x2="508.66" y2="282.09" stroke="#b4c7e7" stroke-width="1.9" stroke-dasharray="12 4.5 1.5 4.5"/>
<line x1="508.66" y1="282.09" x2="547.69" y2="268.53" stroke="#b4c7e7" stroke-width="1.9" stroke-dasharray="12 4.5 1.5 4.5"/>
<line x1="547.69" y1="268.53" x2="625.75" y2="260.42" stroke="#b4c7e7" stroke-width="1.9" stroke-dasharray="12 4.5 1.5 4.5"/>
<circle cx="469.63" cy="232.23" r="3.5" fill="#b8cbea"/>
<circle cx="508.66" cy="282.09" r="3.5" fill="#b8cbea"/>
<circle cx="547.69" cy="268.53" r="3.5" fill="#b8cbea"/>
<circle cx="625.75" cy="260.42" r="3.5" fill="#b8cbea"/>
<polyline points="469.63,210.91 508.66,267.29 547.69,263.95 625.75,259.89" fill="none" stroke="#1f3864" stroke-width="1.5"/>
<path d="M469.63 207.21 L473.23 210.91 L469.63 214.61 L466.03 210.91 Z" fill="#1f3864" stroke="#1f3864" stroke-width="0.6"/>
<path d="M508.66 263.59 L512.26 267.29 L508.66 270.99 L505.06 267.29 Z" fill="#1f3864" stroke="#1f3864" stroke-width="0.6"/>
<path d="M547.69 260.25 L551.29 263.95 L547.69 267.65 L544.09 263.95 Z" fill="#1f3864" stroke="#1f3864" stroke-width="0.6"/>
<path d="M625.75 256.19 L629.35 259.89 L625.75 263.59 L622.15 259.89 Z" fill="#1f3864" stroke="#1f3864" stroke-width="0.6"/>
<g clip-path="url(#clipTL)"><text transform="translate(103.9,172.5) rotate(-90)" font-size="9.2" fill="#595959" textLength="130" lengthAdjust="spacingAndGlyphs">Threshold elevation (log units)</text></g>
<text transform="translate(103.9,327.1) rotate(-90)" font-size="9.2" fill="#595959" textLength="130" lengthAdjust="spacingAndGlyphs">Threshold elevation (log units)</text>
<line x1="181" y1="365.9" x2="205.8" y2="365.9" stroke="#a8c4e6" stroke-width="2"/>
<path d="M193.4 361.9 L197.1 369.6 L189.7 369.6 Z" fill="#3f6fcc"/>
<text x="207.3" y="369.5" font-size="12.6" fill="#595959" textLength="87.4" lengthAdjust="spacingAndGlyphs">Dominant eye</text>
<path d="M314.5 365.4 H336" stroke="#a9c9e8" stroke-width="1.5" stroke-dasharray="9 11 1.2 20"/>
<circle cx="325.8" cy="365.4" r="3.1" fill="#b9d5f0"/>
<text x="340.3" y="369.5" font-size="12.6" fill="#595959" textLength="117" lengthAdjust="spacingAndGlyphs">Non-dominant eye</text>
<line x1="478" y1="365.7" x2="500.7" y2="365.7" stroke="#23599e" stroke-width="1.8"/>
<path d="M489.5 361.7 L493.1 365.7 L489.5 369.7 L485.9 365.7 Z" fill="#2e6db4"/>
<text x="503.8" y="369.5" font-size="12.6" fill="#595959" textLength="58" lengthAdjust="spacingAndGlyphs">Binocular</text>
</svg></body></html>
